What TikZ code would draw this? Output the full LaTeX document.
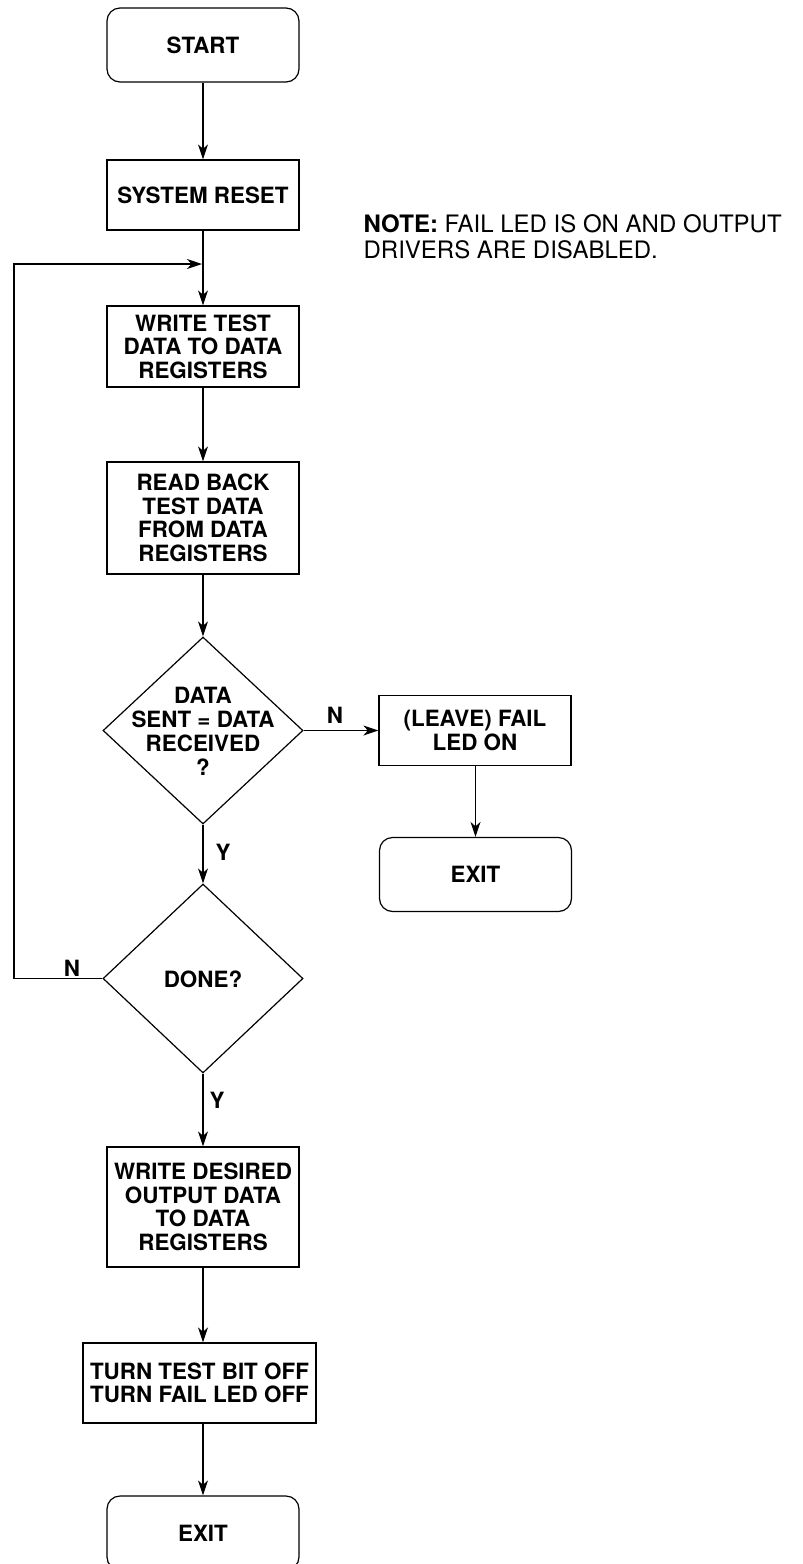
\documentclass[tikz,border=0pt]{standalone}
\usepackage{fontspec}
\setmainfont{TeX Gyre Heros}
\usetikzlibrary{shapes.geometric,arrows.meta}

\begin{document}
\begin{tikzpicture}[x=0.5pt,y=-0.5pt,
  line width=0.6pt,
  >={Stealth[length=7.5pt,width=5pt,inset=2.2pt]},
  boxfont/.style={font=\fontsize{11.2pt}{11.8pt}\selectfont\bfseries},
  procbox/.style={draw,rectangle,boxfont,align=center,inner sep=0pt,
    minimum width=96pt},
  termbox/.style={draw,rectangle,rounded corners=6.5pt,boxfont,align=center,
    inner sep=0pt,minimum width=96pt,minimum height=37pt},
  decision/.style={draw,diamond,inner sep=0pt,aspect=1.07,
    minimum width=100pt,minimum height=93.5pt},
  dtext/.style={align=center,inner sep=0pt,font=\fontsize{11.2pt}{12pt}\selectfont\bfseries},
  flowlabel/.style={boxfont,inner sep=0pt}
]
\useasboundingbox (0,0) rectangle (803,1564);

% main column
\node[termbox] (start) at (203,45) {START};
\node[procbox,minimum height=35pt] (reset) at (203,195) {SYSTEM RESET};
\node[procbox,minimum height=40.5pt] (wtest) at (203,346.5) {WRITE TEST\\DATA TO DATA\\REGISTERS};
\node[procbox,minimum height=56pt] (rback) at (203,518) {READ BACK\\TEST DATA\\FROM DATA\\REGISTERS};
\node[decision] (cmp) at (203,730.5) {};
\node[dtext] (cmptext) at (203,731) {DATA\\SENT = DATA\\RECEIVED\\?};
\node[decision,minimum height=94.5pt] (done) at (203,978.5) {};
\node[dtext] (donetext) at (203,979) {DONE?};
\node[procbox,minimum height=60pt] (wdes) at (203,1207) {WRITE DESIRED\\OUTPUT DATA\\TO DATA\\REGISTERS};
\node[procbox,minimum width=116.5pt,minimum height=40pt] (turn) at (199.5,1383) {TURN TEST BIT OFF\\TURN FAIL LED OFF};
\node[termbox] (exitb) at (203,1533) {EXIT};

% failure branch
\node[procbox,minimum height=35pt] (fail) at (475,730.5) {(LEAVE) FAIL\\LED ON};
\node[termbox] (exitr) at (475.5,874.5) {EXIT};

% note
\node[anchor=north west,align=left,inner sep=0pt,
  font=\fontsize{12pt}{13pt}\selectfont] (note) at (363,213.5)
  {\textbf{NOTE:} FAIL LED IS ON AND OUTPUT\\DRIVERS ARE DISABLED.};

% connectors
\draw[->] (start) -- (reset);
\draw[->] (reset) -- (wtest);
\draw[->] (wtest) -- (rback);
\draw[->] (rback) -- (cmp);
\draw[->] (cmp) -- (done);
\draw[->] (cmp.east) -- (fail.west);
\draw[->] (fail.south -| exitr.north) -- (exitr.north);
\draw[->] (done) -- (wdes);
\draw[->] (wdes.south) -- (wdes.south |- turn.north);
\draw[->] (wdes.south |- turn.south) -- (exitb.north);

% loop back from DONE? to the write step
\coordinate (loopT) at (14,264);
\coordinate (loopE) at (202,264);
\draw[->] (done.west) -| (loopT) -- (loopE);

% branch labels
\node[flowlabel] (nfail) at (335,715) {N};
\node[flowlabel] (ycmp) at (223,852) {Y};
\node[flowlabel] (nloop) at (72,968) {N};
\node[flowlabel] (ydone) at (217,1100) {Y};
\end{tikzpicture}
\end{document}
